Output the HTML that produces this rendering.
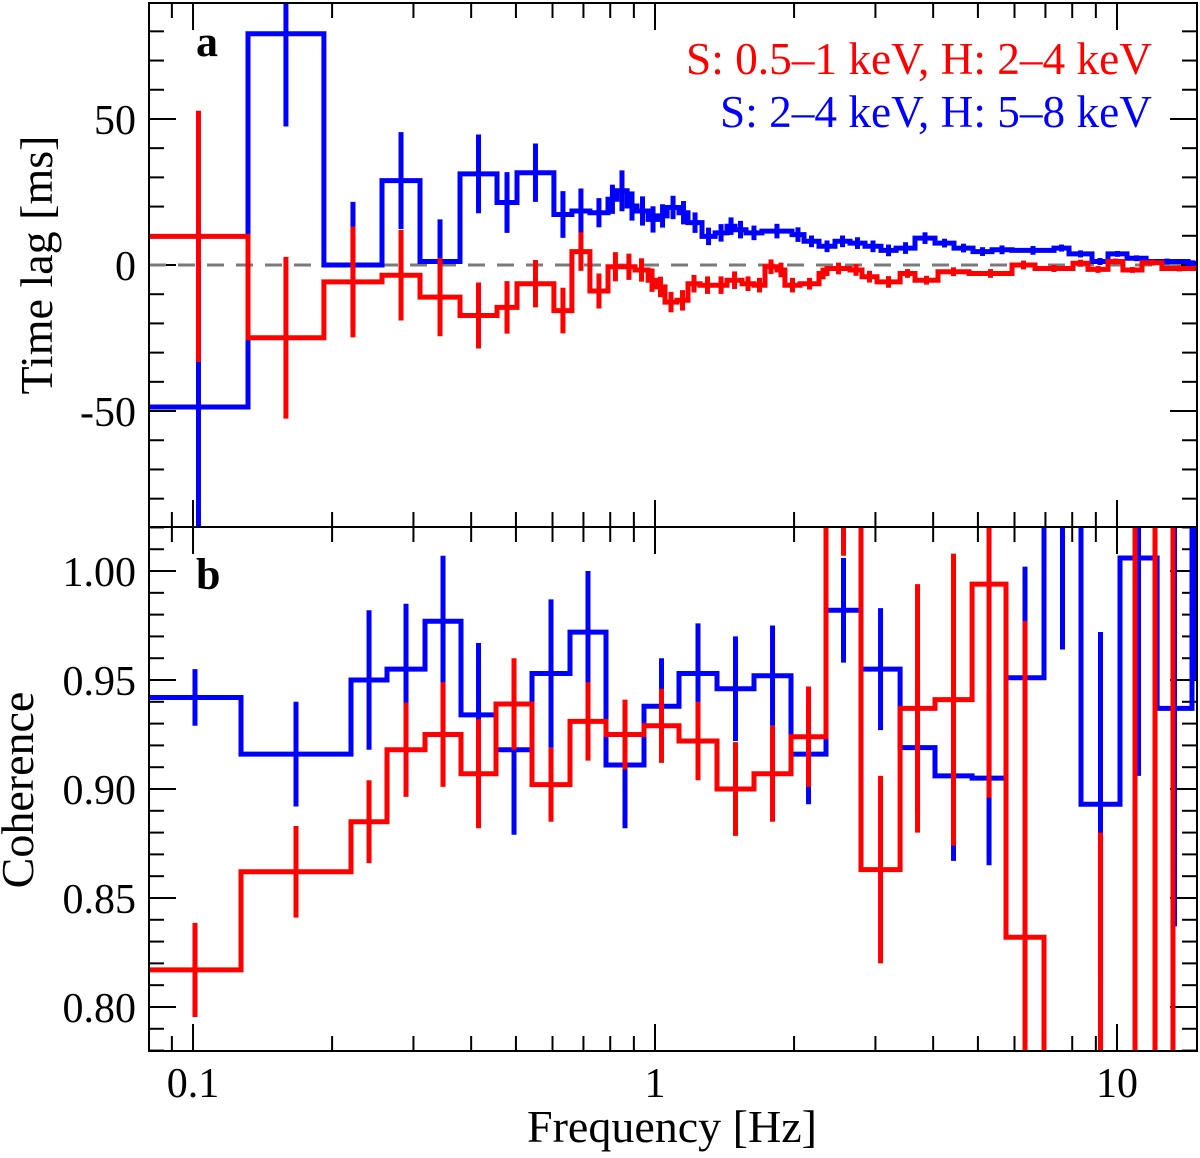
<!DOCTYPE html>
<html><head><meta charset="utf-8"><style>
html,body{margin:0;padding:0;background:#fff;width:1200px;height:1158px;overflow:hidden;}
svg{display:block;font-family:"Liberation Serif",serif;}
</style></head><body>
<svg id="chart" xmlns="http://www.w3.org/2000/svg" width="1200" height="1158" viewBox="0 0 1200 1158">
<defs>
<clipPath id="clipTop"><rect x="149" y="3" width="1048" height="524"/></clipPath>
<clipPath id="clipBot"><rect x="149" y="527" width="1048" height="524"/></clipPath>
</defs>
<rect width="1200" height="1158" fill="#fff"/>
<g id="ticks"></g>
<line x1="149" x2="1197" y1="265" y2="265" stroke="#7a7a7a" stroke-width="3" stroke-dasharray="17,12"/>
<g id="seriesTop" clip-path="url(#clipTop)"></g>
<g id="seriesBot" clip-path="url(#clipBot)"></g>
<rect x="149" y="3" width="1048" height="524" fill="none" stroke="#000" stroke-width="2"/>
<rect x="149" y="527" width="1048" height="524" fill="none" stroke="#000" stroke-width="2"/>
<text x="196" y="56" font-size="44" font-weight="bold">a</text>
<text x="196" y="589" font-size="44" font-weight="bold">b</text>
<text x="1152" y="74" font-size="45" fill="#ff0000" text-anchor="end" textLength="466" lengthAdjust="spacingAndGlyphs">S: 0.5–1 keV, H: 2–4 keV</text>
<text x="1152" y="127" font-size="45" fill="#0000ff" text-anchor="end" textLength="432" lengthAdjust="spacingAndGlyphs">S: 2–4 keV, H: 5–8 keV</text>
<text transform="translate(52,265) rotate(-90)" font-size="46" text-anchor="middle">Time lag [ms]</text>
<text transform="translate(33,790) rotate(-90)" font-size="46" text-anchor="middle">Coherence</text>
<text x="672" y="1142" font-size="46" text-anchor="middle">Frequency [Hz]</text>
</svg>
<script>
// ---- data: top panel (time lag, ms) ----
const redLagEdges=[0.0803,0.1315,0.192,0.2565,0.310,0.3784,0.455,0.5027,0.6043,0.661,0.723,0.791,0.852,0.905,0.966,1.005,1.051,1.116,1.179,1.251,1.349,1.432,1.543,1.638,1.730,1.837,1.911,2.060,2.265,2.357,2.643,2.806,3.023,3.392,3.654,4.098,4.783,5.927,6.645,8.032,8.655,9.561,10.30,11.33,12.51,14.90];
const redLag=[9.8,-24.9,-5.8,-3.5,-11,-17.3,-14.5,-6.4,-15.6,4.6,-8.9,-0.6,-0.6,-1.7,-5.2,-7.5,-12.7,-12.1,-6.4,-6.9,-6.9,-5.2,-6.4,-6.9,-0.6,-1.7,-6.9,-6.4,-2.9,-1.2,-1.7,-4,-5.8,-2.9,-5.2,-2.3,-2.9,0,-1.2,0.6,-1.5,1.2,-1.7,0.8,-1.2];
const redLagErr=[43,27.7,19,15.5,13.4,11.3,9,8.1,7.8,6.6,6,5,4.5,4,4,3.5,3.5,3.5,3,3,3,3,2.5,2.5,2.5,2.5,2.5,2,2,2,2,2,2,1.5,1.5,1.5,1.5,1.5,1.2,1.2,1.2,1,1,1,1];
const blueLagEdges=[0.0803,0.1315,0.192,0.2565,0.310,0.3784,0.455,0.5027,0.6043,0.661,0.723,0.791,0.827,0.870,0.914,0.966,1.015,1.062,1.127,1.179,1.264,1.349,1.432,1.490,1.574,1.704,1.979,2.101,2.265,2.453,2.643,2.848,3.084,3.325,3.654,4.037,4.438,4.880,5.363,5.927,7.304,7.873,8.830,9.561,10.51,11.56,14.25,14.90];
const blueLag=[-48.6,79.2,0,28.9,1.2,31.2,21.4,31.6,17.3,18.5,17.9,22.5,25.4,20.2,18.5,15.6,16.8,19.7,17.9,14.5,9.8,11,13.3,12.1,11,11.6,10.4,8.1,6.4,8.1,7.5,6.4,5,5.8,9.2,7.5,5.8,4.6,5.2,5,5.8,3.8,1.2,3.8,2.3,1.2,0.6];
const blueLagErr=[50,31.8,21.6,16.6,14.4,13.5,10.4,10,8,7.7,5,5,7,5,5,4.5,4,4,4,3.5,3,3,3,3,2.5,2.5,2.5,2,2,2,2,2,2,2,2,1.5,1.5,1.5,1.5,1.5,1.2,1.2,1.2,1,1,1,1];
// ---- data: bottom panel (coherence) ----
const blueCohEdges=[0.0803,0.1270,0.2198,0.2630,0.3178,0.3803,0.4527,0.5418,0.6546,0.7832,0.9467,1.127,1.362,1.638,1.970,2.345,2.792,3.392,4.037,4.856,5.752,6.950,8.358,10.15,12.21,14.53,14.90];
const blueCoh=[0.942,0.916,0.950,0.955,0.977,0.934,0.918,0.953,0.972,0.911,0.938,0.953,0.946,0.952,0.916,0.982,0.955,0.919,0.906,0.905,0.951,1.04,0.893,1.006,0.937,1.05];
const blueCohErr=[0.013,0.024,0.032,0.030,0.030,0.033,0.039,0.034,0.028,0.029,0.022,0.023,0.024,0.023,0.023,0.024,0.028,0.03,0.039,0.04,0.051,0.076,0.079,0.1,0.1,0.1];
const redCohEdges=[0.0803,0.1270,0.2198,0.2630,0.3178,0.3803,0.4527,0.5418,0.6546,0.7832,0.9467,1.127,1.362,1.638,1.970,2.345,2.792,3.392,4.037,4.856,5.752,6.950,8.358,10.15,11.79,12.39,14.10];
const redCoh=[0.817,0.862,0.885,0.918,0.925,0.907,0.939,0.902,0.931,0.925,0.929,0.922,0.900,0.907,0.924,1.05,0.863,0.937,0.941,0.994,0.832,0.60,0.60,0.55,0.55,0.55];
const redCohErr=[0.0216,0.021,0.019,0.0216,0.024,0.025,0.021,0.017,0.018,0.016,0.017,0.018,0.0215,0.022,0.023,0.043,0.043,0.057,0.067,0.098,0.145,0.1,0.28,0.6,0.6,0.6];
// ---- tick labels ----
const xTickVals=[0.1,1,10];
const xTickLabels=["0.1","1","10"];
const lagTickVals=[-50,0,50];
const lagTickLabels=["-50","0","50"];
const cohTickVals=[0.80,0.85,0.90,0.95,1.00];
const cohTickLabels=["0.80","0.85","0.90","0.95","1.00"];

const NS="http://www.w3.org/2000/svg";
const X0=149,X1=1197,LMIN=Math.log10(0.0803),LMAX=Math.log10(14.90);
function xs(f){return X0+(Math.log10(f)-LMIN)/(LMAX-LMIN)*(X1-X0);}
const TOP0=3,TOP1=527,LAGMAX=89.7,LAGMIN=-89.7;
function yLag(v){return TOP0+(LAGMAX-v)/(LAGMAX-LAGMIN)*(TOP1-TOP0);}
const B0=527,B1=1051,CMAX=1.0202,CMIN=0.7798;
function yCoh(v){return B0+(CMAX-v)/(CMAX-CMIN)*(B1-B0);}

function mk(tag,attrs,parent){const e=document.createElementNS(NS,tag);for(const k in attrs)e.setAttribute(k,attrs[k]);parent.appendChild(e);return e;}

function drawSeries(parent,edges,vals,errs,yf,color,name){
  let d="M"+xs(edges[0]).toFixed(1)+","+yf(vals[0]).toFixed(1);
  for(let i=0;i<vals.length;i++){
    if(i>0)d+=" V"+yf(vals[i]).toFixed(1);
    d+=" H"+xs(edges[i+1]).toFixed(1);
  }
  const p=mk("path",{d:d,fill:"none",stroke:color,"stroke-width":5,"stroke-linejoin":"miter"},parent);
  
  
  for(let i=0;i<vals.length;i++){
    const c=Math.sqrt(edges[i]*edges[i+1]);
    const l=mk("line",{x1:xs(c),x2:xs(c),y1:yf(vals[i]+errs[i]),y2:yf(vals[i]-errs[i]),stroke:color,"stroke-width":5},parent);
    
    
  }
}
const gT=document.getElementById("seriesTop"),gB=document.getElementById("seriesBot");
drawSeries(gT,blueLagEdges,blueLag,blueLagErr,yLag,"#0000ff","blue-lag");
drawSeries(gT,redLagEdges,redLag,redLagErr,yLag,"#ff0000","red-lag");
drawSeries(gB,blueCohEdges,blueCoh,blueCohErr,yCoh,"#0000ff","blue-coherence");
drawSeries(gB,redCohEdges,redCoh,redCohErr,yCoh,"#ff0000","red-coherence");

// ticks
const gk=document.getElementById("ticks");
const svg=document.getElementById("chart");
function tl(x1,y1,x2,y2,name){const l=mk("line",{x1:x1,y1:y1,x2:x2,y2:y2,stroke:"#000","stroke-width":2},gk);
  
  }
for(let dec=-2;dec<=1;dec++){
  for(let m=1;m<=9;m++){
    const f=m*Math.pow(10,dec);
    if(f<0.0803||f>14.9)continue;
    const x=xs(f),L=(m===1)?27:15;
    [[TOP0,TOP0+L],[TOP1,TOP1-L],[B0,B0+L],[B1,B1-L]].forEach(a=>tl(x,a[0],x,a[1],'x-tick'));
  }
}
for(let v=-80;v<=80;v+=10){
  const y=yLag(v),L=(v%50===0)?27:15;
  tl(X0,y,X0+L,y,'lag-tick');tl(X1,y,X1-L,y,'lag-tick');
}
for(let k=78;k<=102;k++){
  const v=k/100,y=yCoh(v),L=(k%5===0)?27:15;
  tl(X0,y,X0+L,y,'coherence-tick');tl(X1,y,X1-L,y,'coherence-tick');
}
xTickVals.forEach((v,i)=>{
  const t=mk("text",{x:xs(v),y:1097,"font-size":42,"text-anchor":"middle"},svg);
  t.textContent=xTickLabels[i];
  
  
});
lagTickVals.forEach((v,i)=>{
  const t=mk("text",{x:136,y:yLag(v)+15,"font-size":42,"text-anchor":"end"},svg);
  t.textContent=lagTickLabels[i];
  
  
});
cohTickVals.forEach((v,i)=>{
  const t=mk("text",{x:136,y:yCoh(v)+15,"font-size":42,"text-anchor":"end"},svg);
  t.textContent=cohTickLabels[i];
  
  
});
</script>
</body></html>
